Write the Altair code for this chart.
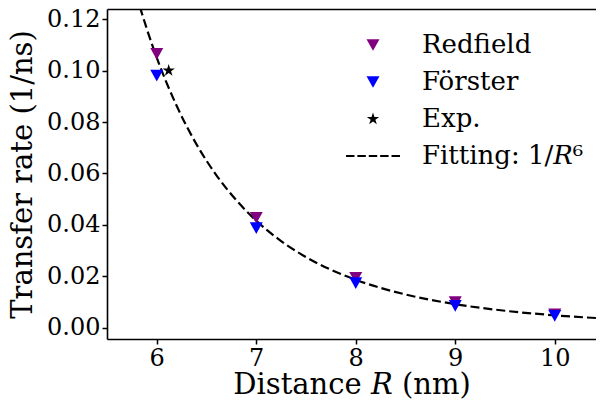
import altair as alt
import pandas as pd

# ---- data ----
distance = [6, 7, 8, 9, 10]
redfield = [0.1065, 0.0428, 0.0195, 0.0100, 0.0053]
forster = [0.0980, 0.0388, 0.0174, 0.0086, 0.0047]
exp_x = [6.12]
exp_y = [0.100]

fit_x = [5.83, 5.9, 6.0, 6.2, 6.4, 6.6, 6.8, 7.0, 7.25, 7.5, 7.75, 8.0, 8.5, 9.0, 9.5, 10.0, 10.5]
fit_y = [0.1248, 0.1162, 0.1050, 0.0863, 0.0713, 0.0593, 0.0496, 0.04165, 0.03374, 0.02753,
         0.02261, 0.01869, 0.01299, 0.00922, 0.00667, 0.0049, 0.00366]

series_names = ["Redfield", "Förster", "Exp.", "Fitting: 1/𝑅⁶"]
series_colors = ["purple", "blue", "black", "black"]

x_ticks = [6, 7, 8, 9, 10]
y_ticks = [0.0, 0.02, 0.04, 0.06, 0.08, 0.10, 0.12]

# ---- marker shapes (unit paths) ----
TRI_DOWN = "M-1,-0.9L1,-0.9L0,0.9Z"
STAR = ("M0,-1L0.225,-0.309L0.951,-0.309L0.363,0.118L0.588,0.809L0,0.382"
        "L-0.588,0.809L-0.363,0.118L-0.951,-0.309L-0.225,-0.309Z")
DASHES = ("M-4.15,-0.17H-2.85V0.17H-4.15Z M-2.4,-0.17H-1.1V0.17H-2.4Z "
          "M-0.65,-0.17H0.65V0.17H-0.65Z M1.1,-0.17H2.4V0.17H1.1Z M2.85,-0.17H4.15V0.17H2.85Z")
series_shapes = [TRI_DOWN, TRI_DOWN, STAR, DASHES]

rows = []
for d, v in zip(distance, redfield):
    rows.append({"R": d, "rate": v, "series": "Redfield"})
for d, v in zip(distance, forster):
    rows.append({"R": d, "rate": v, "series": "Förster"})
for d, v in zip(exp_x, exp_y):
    rows.append({"R": d, "rate": v, "series": "Exp."})
points_df = pd.DataFrame(rows)
points_df["order"] = range(len(points_df))

fit_df = pd.DataFrame({"R": fit_x, "rate": fit_y})

FONT = "DejaVu Serif"
PLOT_W = 489
XDOM = [5.5, 5.5 + PLOT_W / 99.5]   # the reference's right spine sits just past the window edge
YDOM = [-0.0043, 0.1239]

xscale = alt.Scale(domain=XDOM, nice=False, zero=False)
yscale = alt.Scale(domain=YDOM, nice=False, zero=False)

x_enc = alt.X("R:Q", scale=xscale,
              axis=alt.Axis(values=x_ticks, format="d", title="Distance 𝑅 (nm)",
                            titlePadding=0, labelPadding=2))
x_noaxis = alt.X("R:Q", scale=xscale, axis=None)
y_enc = alt.Y("rate:Q", scale=yscale,
              axis=alt.Axis(values=y_ticks, format=".2f", title="Transfer rate (1/ns)",
                            titlePadding=9, labelPadding=2))

fit_line = alt.Chart(fit_df).mark_line(
    clip=True, color="black", strokeWidth=2.2, strokeDash=[9, 4], interpolate="monotone"
).encode(
    x=x_enc, y=y_enc,
)

legend = alt.Legend(title=None, orient="none", legendX=253, legendY=23,
                    labelFontSize=26, labelFont=FONT, labelColor="black", labelLimit=400,
                    rowPadding=11, labelOffset=36, symbolSize=169,
                    symbolStrokeWidth=0, symbolOpacity=1)

points = alt.Chart(points_df).mark_point(
    filled=True, size=169, opacity=1, strokeWidth=0
).encode(
    x=x_noaxis,
    y=y_enc,
    order="order:Q",
    color=alt.Color("series:N", scale=alt.Scale(domain=series_names, range=series_colors),
                    legend=legend),
    shape=alt.Shape("series:N", scale=alt.Scale(domain=series_names, range=series_shapes),
                    legend=legend),
)

# top spine drawn as a bare top axis
top_spine = alt.Chart(fit_df).mark_line(opacity=0).encode(
    x=alt.X("R:Q", scale=xscale,
            axis=alt.Axis(orient="top", labels=False, ticks=False, title=None, domain=True)),
    y=y_enc,
)

chart = alt.layer(fit_line, points, top_spine).resolve_axis(
    x="independent"
).properties(
    width=PLOT_W, height=330,
    background="white",
    autosize=alt.AutoSizeParams(type="none"),
    padding={"left": 99, "top": 1, "right": 0, "bottom": 60},
).configure_view(
    stroke=None
).configure_axis(
    grid=False, domain=True, domainColor="black", domainWidth=1.6,
    ticks=True, tickColor="black", tickWidth=1.5, tickSize=5,
    labelFont=FONT, labelFontSize=24, labelColor="black",
    titleFont=FONT, titleFontSize=29, titleFontWeight="normal", titleColor="black",
)

chart.save("out.html", embed_options={"renderer": "svg", "actions": False})
